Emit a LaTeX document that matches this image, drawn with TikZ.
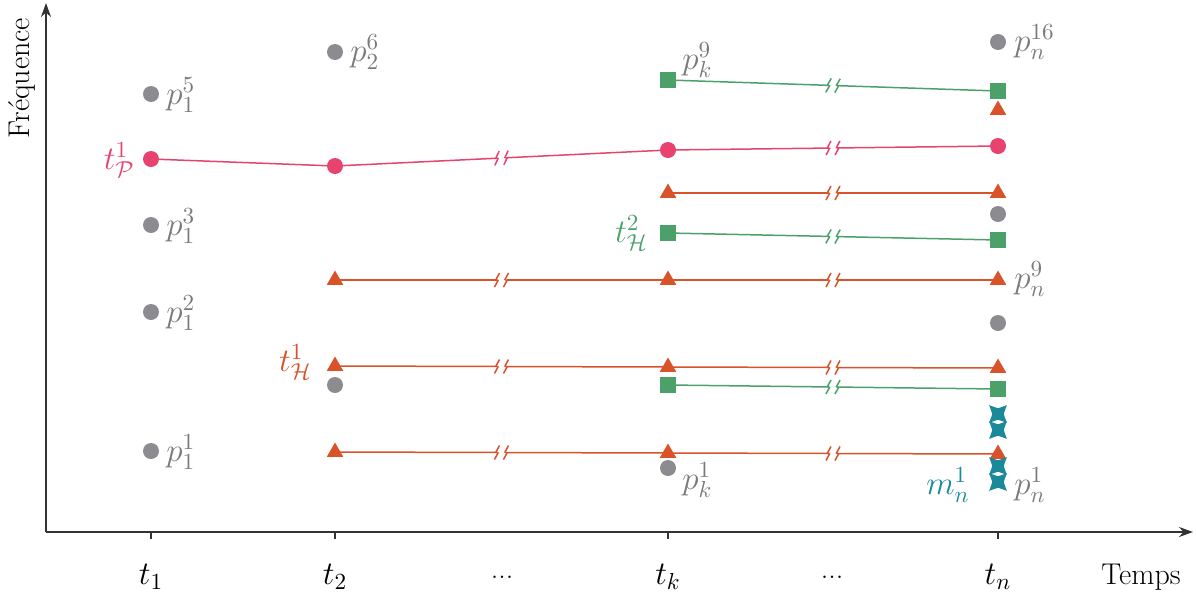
\documentclass[tikz,border=0pt]{standalone}
\usepackage{fix-cm}
\usepackage{fontspec}
\usetikzlibrary{shapes.geometric,arrows.meta,backgrounds}
\definecolor{pinkc}{HTML}{E8436E}
\definecolor{greenc}{HTML}{4CA16B}
\definecolor{orangec}{HTML}{D8522A}
\definecolor{tealc}{HTML}{1A8A9B}
\definecolor{grayc}{HTML}{8C8C90}
\definecolor{labgray}{HTML}{7A7A7A}
\definecolor{axisc}{HTML}{333333}
\tikzset{
  brk/.pic={
    \fill[white] (-5,-3) rectangle (5,3);
    \draw[#1,line width=0.75pt] (-7,7) -- (-3.5,0.5) -- (-5.5,-0.5) -- (-2,-7);
    \draw[#1,line width=0.75pt] (2,7) -- (5.5,0.5) -- (3.5,-0.5) -- (7,-7);
  }
}
\begin{document}
\begin{tikzpicture}[x=0.5pt,y=-0.5pt,
  font=\fontsize{15}{18}\selectfont,
  mfont/.style={font=\fontsize{16.5}{20}\selectfont},
  gpt/.style={circle,fill=grayc,inner sep=0,minimum size=8pt},
  ppt/.style={circle,fill=pinkc,inner sep=0,minimum size=8pt},
  sq/.style={rectangle,fill=greenc,inner sep=0,minimum size=7.8pt},
  tri/.style={regular polygon,regular polygon sides=3,fill=orangec,inner sep=0,minimum size=9.5pt},
  mstar/.style={star,star points=4,star point ratio=2.2,shape border rotate=45,fill=tealc,inner sep=0,minimum size=12.5pt},
  glab/.style={mfont,text=labgray,inner sep=1pt},
  clab/.style={mfont,text=#1,inner sep=1pt},
  axis/.style={draw=axisc,line width=1pt},
  pline/.style={draw=pinkc,line width=0.75pt},
  gline/.style={draw=greenc,line width=0.75pt},
  oline/.style={draw=orangec,line width=0.75pt},
  tick/.style={mfont,inner sep=1pt}
]
\useasboundingbox (0,0) rectangle (1196,596);

% axes
\coordinate (O) at (46,532);
\coordinate (Ytop) at (46,3);
\coordinate (Xend) at (1193,532);
\draw[axis,-{Stealth[length=7pt,width=5pt]}] (O) -- (Ytop);
\draw[axis,-{Stealth[length=7pt,width=5pt]}] (O) -- (Xend);
\foreach \x in {151,335,668,998} \draw[axisc,line width=0.6pt] (\x,532) -- (\x,539);
\node[tick] (l1) at (151,577) {$t_1$};
\node[tick] (l2) at (335,577) {$t_2$};
\node[inner sep=1pt] (ld1) at (502,577) {...};
\node[tick] (lk) at (668,577) {$t_k$};
\node[inner sep=1pt] (ld2) at (832,577) {...};
\node[tick] (ln) at (998,577) {$t_n$};
\node[inner sep=1pt] (temps) at (1141,577) {Temps};
\node[rotate=90,inner sep=1pt] (freq) at (22,78) {Fréquence};

% column t1
\node[gpt] (p15) at (151,94) {};
\node[ppt] (a1) at (151,159) {};
\node[gpt] (p13) at (151,225) {};
\node[gpt] (p12) at (151,312) {};
\node[gpt] (p11) at (151,451) {};
\node[glab,anchor=west] (lp15) at (164,95) {$p_1^5$};
\node[clab=pinkc,anchor=east] (ltp) at (137,160) {$t^1_{\mathcal{P}}$};
\node[glab,anchor=west] (lp13) at (164,226) {$p_1^3$};
\node[glab,anchor=west] (lp12) at (164,313) {$p_1^2$};
\node[glab,anchor=west] (lp11) at (164,452) {$p_1^1$};

% column t2
\node[gpt] (p26) at (335,52) {};
\node[ppt] (a2) at (335,166) {};
\node[tri] (o21) at (335,280) {};
\node[tri] (o22) at (335,366) {};
\node[gpt] (g2) at (335,385) {};
\node[tri] (o23) at (335,452) {};
\node[glab,anchor=west] (lp26) at (348,52) {$p_2^6$};
\node[clab=orangec,anchor=east] (lth1) at (314,362) {$t^1_{\mathcal{H}}$};

% column tk
\node[sq] (sk1) at (668,80) {};
\node[ppt] (ak) at (668,150) {};
\node[tri] (ok1) at (668,193) {};
\node[sq] (sk2) at (668,233) {};
\node[tri] (ok2) at (668,280) {};
\node[tri] (ok3) at (668,367) {};
\node[sq] (sk3) at (668,385) {};
\node[tri] (ok4) at (668,453) {};
\node[gpt] (gk) at (668,468) {};
\node[glab,anchor=west] (lpk9) at (680,60) {$p_k^9$};
\node[clab=greenc,anchor=east] (lth2) at (650,233) {$t^2_{\mathcal{H}}$};
\node[glab,anchor=west] (lpk1) at (680,480) {$p_k^1$};

% column tn
\node[gpt] (gn1) at (998,42) {};
\node[sq] (sn1) at (998,91) {};
\node[tri] (on0) at (998,110) {};
\node[ppt] (an) at (998,146) {};
\node[tri] (on1) at (998,193) {};
\node[gpt] (gn2) at (998,214) {};
\node[sq] (sn2) at (998,240) {};
\node[tri] (on2) at (998,280) {};
\node[gpt] (gn3) at (998,323) {};
\node[tri] (on3) at (998,368) {};
\node[sq] (sn3) at (998,389) {};
\node[mstar] (st1) at (998,414) {};
\node[mstar] (st2) at (998,430) {};
\node[tri] (on4) at (998,454) {};
\node[mstar] (st3) at (998,466) {};
\node[mstar] (st4) at (998,482) {};
\node[glab,anchor=west] (lpn16) at (1012,42) {$p_n^{16}$};
\node[glab,anchor=west] (lpn9) at (1012,279) {$p_n^9$};
\node[glab,anchor=west] (lpn1) at (1012,485) {$p_n^1$};
\node[clab=tealc,anchor=east] (lmn1) at (972,485) {$m_n^1$};

% connectors
\begin{pgfonlayer}{background}
\draw[pline] (a1.center) -- (a2.center) -- pic[pos=.5,sloped]{brk=pinkc} (ak.center) -- pic[pos=.5,sloped]{brk=pinkc} (an.center);
\draw[gline] (sk1.center) -- pic[pos=.5,sloped]{brk=greenc} (sn1.center);
\draw[oline] (ok1.center) -- pic[pos=.5,sloped]{brk=orangec} (on1.center);
\draw[gline] (sk2.center) -- pic[pos=.5,sloped]{brk=greenc} (sn2.center);
\draw[oline] (o21.center) -- pic[pos=.5,sloped]{brk=orangec} (ok2.center) -- pic[pos=.5,sloped]{brk=orangec} (on2.center);
\draw[oline] (o22.center) -- pic[pos=.5,sloped]{brk=orangec} (ok3.center) -- pic[pos=.5,sloped]{brk=orangec} (on3.center);
\draw[gline] (sk3.center) -- pic[pos=.5,sloped]{brk=greenc} (sn3.center);
\draw[oline] (o23.center) -- pic[pos=.5,sloped]{brk=orangec} (ok4.center) -- pic[pos=.5,sloped]{brk=orangec} (on4.center);
\end{pgfonlayer}
\end{tikzpicture}
\end{document}
